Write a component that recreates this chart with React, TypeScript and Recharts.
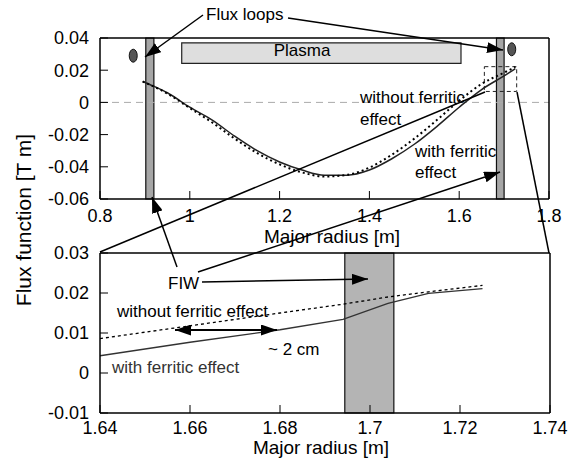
import { LineChart, Line, XAxis, YAxis, ReferenceArea, ReferenceLine, ReferenceDot } from "recharts"

const FONT = '"Liberation Sans", Arial, Helvetica, sans-serif'

// full view, flux function vs major radius
const topRadius = [0.895, 0.92, 0.95, 1.0, 1.05, 1.1, 1.15, 1.2, 1.25, 1.3, 1.35, 1.4, 1.45, 1.5, 1.55, 1.6, 1.65, 1.7, 1.725]
const topWithFerritic = [0.013, 0.010, 0.006, -0.003, -0.011, -0.021, -0.030, -0.037, -0.042, -0.0452, -0.0452, -0.042, -0.035, -0.026, -0.015, -0.003, 0.008, 0.0165, 0.021]
const topWithoutFerritic = [0.013, 0.0098, 0.0055, -0.0035, -0.0125, -0.0225, -0.0315, -0.0385, -0.0435, -0.046, -0.045, -0.0405, -0.0325, -0.0225, -0.011, 0.001, 0.0115, 0.0185, 0.022]
const topXTicks = [0.8, 1, 1.2, 1.4, 1.6, 1.8]
const topYTicks = [-0.06, -0.04, -0.02, 0, 0.02, 0.04]

// zoom near the outboard FIW
const zoomRadius = [1.64, 1.66, 1.68, 1.694, 1.704, 1.713, 1.725]
const zoomWithFerritic = [0.0043, 0.0077, 0.0108, 0.0134, 0.0174, 0.0199, 0.0211]
const zoomWithoutFerritic = [0.0086, 0.0118, 0.015, 0.0172, 0.019, 0.0203, 0.0219]
const zoomXTicks = [1.64, 1.66, 1.68, 1.7, 1.72, 1.74]
const zoomYTicks = [-0.01, 0, 0.01, 0.02, 0.03]

// machine parts
const fluxLoops = [{ r: 0.874, psi: 0.029 }, { r: 1.717, psi: 0.033 }]
const fiwTop = [[0.902, 0.92], [1.683, 1.7]]
const fiwZoom = [1.6944, 1.7053]
const plasmaR = [0.982, 1.604]
const plasmaPsi = [0.0243, 0.037]
const zoomBoxR = [1.656, 1.728]
const zoomBoxPsi = [0.0068, 0.0222]

const topData = topRadius.map((r, i) => ({ r, withF: topWithFerritic[i], withoutF: topWithoutFerritic[i] }))
const zoomData = zoomRadius.map((r, i) => ({ r, withF: zoomWithFerritic[i], withoutF: zoomWithoutFerritic[i] }))

const tickStyle = { fill: "#000", fontSize: 18, fontFamily: FONT }
const axisLine = { stroke: "#000", strokeWidth: 1.5 }
const inner = (t: number[]) => t.slice(1, -1)

const loopShape = (p: any) => <ellipse cx={p.cx} cy={p.cy} rx={4} ry={6.5} fill="#555" stroke="#111" strokeWidth={1} />

const arrows = [
  [203, 15, 145, 57],
  [288, 18, 503, 50],
  [177, 267, 152, 197],
  [198, 272, 500, 172],
  [202, 282, 368, 279],
]
const plainLines = [
  [100, 252, 485, 92],
  [517, 92, 549, 253],
]

export default function App() {
  return (
    <div style={{ position: "absolute", left: 0, top: 0, width: 582, height: 460, background: "#fff", fontFamily: FONT }}>
      <div style={{ position: "absolute", left: 0, top: 0 }}>
        <LineChart width={582} height={245} data={topData} margin={{ top: 37, right: 32, bottom: 16, left: 0 }}>
          <XAxis xAxisId="x" type="number" dataKey="r" domain={[0.8, 1.8]} ticks={topXTicks} allowDataOverflow
            tickSize={-8} tickMargin={18} height={30} stroke="#000" axisLine={axisLine} tick={tickStyle} />
          <XAxis xAxisId="xt" orientation="top" type="number" dataKey="r" domain={[0.8, 1.8]} ticks={inner(topXTicks)} allowDataOverflow
            tickSize={-8} height={1} stroke="#000" axisLine={axisLine} tick={false} />
          <YAxis yAxisId="y" type="number" domain={[-0.06, 0.04]} ticks={topYTicks} allowDataOverflow
            tickSize={-8} tickMargin={19} width={100} stroke="#000" axisLine={axisLine} tick={tickStyle} />
          <YAxis yAxisId="yr" orientation="right" type="number" domain={[-0.06, 0.04]} ticks={inner(topYTicks)} allowDataOverflow
            tickSize={-8} width={1} stroke="#000" axisLine={axisLine} tick={false} />
          <ReferenceLine xAxisId="x" yAxisId="y" y={0} stroke="#aaa" strokeDasharray="7 5" />
          <ReferenceArea xAxisId="x" yAxisId="y" x1={plasmaR[0]} x2={plasmaR[1]} y1={plasmaPsi[0]} y2={plasmaPsi[1]}
            fill="#dedede" fillOpacity={1} stroke="#222" strokeWidth={1.2} />
          {fiwTop.map(([a, b], i) => (
            <ReferenceArea key={i} xAxisId="x" yAxisId="y" x1={a} x2={b} fill="#a6a6a6" fillOpacity={1} stroke="#111" strokeWidth={1.2} />
          ))}
          <ReferenceArea xAxisId="x" yAxisId="y" x1={zoomBoxR[0]} x2={zoomBoxR[1]} y1={zoomBoxPsi[0]} y2={zoomBoxPsi[1]}
            fill="none" stroke="#222" strokeDasharray="4 3" strokeWidth={1} />
          {fluxLoops.map((f, i) => (
            <ReferenceDot key={i} xAxisId="x" yAxisId="y" x={f.r} y={f.psi} r={5} shape={loopShape} />
          ))}
          <Line xAxisId="x" yAxisId="y" dataKey="withF" type="monotone" stroke="#222" strokeWidth={1.5} dot={false} activeDot={false} isAnimationActive={false} />
          <Line xAxisId="x" yAxisId="y" dataKey="withoutF" type="monotone" stroke="#000" strokeWidth={2} strokeDasharray="2 3" dot={false} activeDot={false} isAnimationActive={false} />
        </LineChart>
      </div>
      <div style={{ position: "absolute", left: 0, top: 240 }}>
        <LineChart width={582} height={220} data={zoomData} margin={{ top: 12, right: 31, bottom: 17, left: 0 }}>
          <XAxis xAxisId="x" type="number" dataKey="r" domain={[1.64, 1.74]} ticks={zoomXTicks} allowDataOverflow
            tickSize={-8} tickMargin={16} height={30} stroke="#000" axisLine={axisLine} tick={tickStyle} />
          <XAxis xAxisId="xt" orientation="top" type="number" dataKey="r" domain={[1.64, 1.74]} ticks={inner(zoomXTicks)} allowDataOverflow
            tickSize={-8} height={1} stroke="#000" axisLine={axisLine} tick={false} />
          <YAxis yAxisId="y" type="number" domain={[-0.01, 0.03]} ticks={zoomYTicks} allowDataOverflow
            tickSize={-8} tickMargin={19} width={100} stroke="#000" axisLine={axisLine} tick={tickStyle} />
          <YAxis yAxisId="yr" orientation="right" type="number" domain={[-0.01, 0.03]} ticks={inner(zoomYTicks)} allowDataOverflow
            tickSize={-8} width={1} stroke="#000" axisLine={axisLine} tick={false} />
          <ReferenceArea xAxisId="x" yAxisId="y" x1={fiwZoom[0]} x2={fiwZoom[1]} fill="#b4b4b4" fillOpacity={1} stroke="#111" strokeWidth={1.2} />
          <Line xAxisId="x" yAxisId="y" dataKey="withF" type="linear" stroke="#333" strokeWidth={1.4} dot={false} activeDot={false} isAnimationActive={false} />
          <Line xAxisId="x" yAxisId="y" dataKey="withoutF" type="linear" stroke="#000" strokeWidth={1.3} strokeDasharray="3 3" dot={false} activeDot={false} isAnimationActive={false} />
        </LineChart>
      </div>
      <svg width={582} height={460} style={{ position: "absolute", left: 0, top: 0, pointerEvents: "none" }}>
        <defs>
          <marker id="ah" viewBox="0 0 16 11" refX={16} refY={5.5} markerWidth={16} markerHeight={11} markerUnits="userSpaceOnUse" orient="auto-start-reverse">
            <path d="M0,0 L16,5.5 L0,11 z" fill="#000" />
          </marker>
        </defs>
        {plainLines.map(([x1, y1, x2, y2], i) => (
          <line key={i} x1={x1} y1={y1} x2={x2} y2={y2} stroke="#000" strokeWidth={1.5} />
        ))}
        {arrows.map(([x1, y1, x2, y2], i) => (
          <line key={i} x1={x1} y1={y1} x2={x2} y2={y2} stroke="#000" strokeWidth={1.5} markerEnd="url(#ah)" />
        ))}
        <line x1={175} y1={330} x2={277} y2={330} stroke="#000" strokeWidth={1.8} markerStart="url(#ah)" markerEnd="url(#ah)" />
        <g fontFamily={FONT} fill="#000">
          <text x={206} y={20} fontSize={17}>Flux loops</text>
          <text x={302} y={56} fontSize={17} textAnchor="middle">Plasma</text>
          <text x={360} y={103} fontSize={17}>without ferritic</text>
          <text x={360} y={125} fontSize={17}>effect</text>
          <text x={415} y={157} fontSize={17}>with ferritic</text>
          <text x={415} y={178} fontSize={17}>effect</text>
          <text x={168} y={289} fontSize={17}>FIW</text>
          <text x={117} y={317} fontSize={17}>without ferritic effect</text>
          <text x={112} y={373} fontSize={17} fill="#333">with ferritic effect</text>
          <text x={268} y={355} fontSize={17}>~ 2 cm</text>
          <text x={332} y={243} fontSize={19} textAnchor="middle">Major radius [m]</text>
          <text x={321} y={454} fontSize={19} textAnchor="middle">Major radius [m]</text>
          <text x={0} y={0} fontSize={21} textAnchor="middle" transform="translate(31,220) rotate(-90)">Flux function [T m]</text>
        </g>
      </svg>
    </div>
  )
}
